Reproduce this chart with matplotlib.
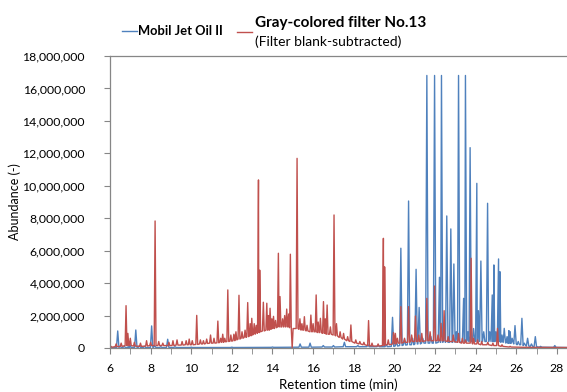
import numpy as np
import matplotlib
matplotlib.use('Agg')
import matplotlib.pyplot as plt
from matplotlib.ticker import MultipleLocator, FuncFormatter

plt.rcParams['font.family'] = ['Lato', 'DejaVu Sans']

# peaks: retention time (min), apex and foot abundance (millions)
jet_t = [6.00, 6.38, 6.50, 6.70, 6.90, 6.98, 7.27, 7.45, 7.70, 8.05, 8.20, 8.50, 8.84, 9.20,
         10.0, 12.0, 14.0, 15.36, 15.85, 16.50, 17.00, 17.54, 18.20, 18.70, 19.20, 19.60,
         19.91, 20.10, 20.32, 20.50, 20.70, 20.90, 21.07, 21.22, 21.40, 21.60, 21.80, 21.98,
         22.22, 22.32, 22.45, 22.58, 22.78, 22.93, 23.05, 23.16, 23.41, 23.50, 23.62, 23.73,
         23.90, 24.06, 24.14, 24.26, 24.40, 24.59, 24.70, 24.82, 24.90, 25.00, 25.13, 25.20,
         25.30, 25.41, 25.55, 25.64, 25.70, 25.80, 25.94, 26.10, 26.28, 26.40, 26.56, 26.75,
         26.94, 27.20, 27.90, 28.45]
jet_h = [0.02, 1.05, 0.10, 0.10, 0.08, 0.20, 1.11, 0.15, 0.10, 1.36, 0.15, 0.08, 0.54, 0.08,
         0.05, 0.05, 0.06, 0.25, 0.30, 0.15, 0.15, 0.35, 0.15, 0.20, 0.15, 0.20,
         1.89, 0.40, 6.15, 0.50, 9.06, 0.60, 4.85, 2.50, 0.60, 16.8, 0.70, 16.8,
         4.36, 16.8, 1.00, 8.14, 7.34, 5.18, 1.00, 16.8, 3.06, 16.8, 1.00, 12.35,
         1.20, 10.15, 2.30, 5.36, 1.00, 8.92, 1.00, 3.27, 5.12, 1.00, 5.49, 4.70,
         0.80, 1.21, 0.70, 1.07, 1.00, 0.60, 1.38, 0.40, 1.83, 0.30, 0.60, 0.25,
         0.70, 0.10, 0.15, 0.03]
jet_foot = [0.02, 0.03, 0.03, 0.03, 0.03, 0.03, 0.03, 0.03, 0.03, 0.03, 0.03, 0.03, 0.03, 0.03,
            0.03, 0.03, 0.04, 0.05, 0.05, 0.06, 0.06, 0.08, 0.08, 0.08, 0.08, 0.08,
            0.10, 0.12, 0.15, 0.18, 0.20, 0.20, 0.25, 0.25, 0.30, 0.30, 0.30, 0.30,
            0.35, 0.35, 0.35, 0.35, 0.35, 0.35, 0.35, 0.35, 0.40, 0.40, 0.40, 0.40,
            0.40, 0.40, 0.40, 0.40, 0.40, 0.40, 0.40, 0.40, 0.40, 0.40, 0.40, 0.40,
            0.35, 0.35, 0.30, 0.30, 0.30, 0.30, 0.25, 0.20, 0.20, 0.15, 0.12, 0.10,
            0.08, 0.05, 0.04, 0.03]

filt_t = [6.05, 6.30, 6.55, 6.79, 6.88, 7.00, 7.20, 7.50, 7.80, 8.00, 8.22, 8.40, 8.60, 8.90,
          9.10, 9.30, 9.55, 9.75, 9.90, 10.05, 10.27, 10.45, 10.60, 10.76, 10.95, 11.12,
          11.31, 11.45, 11.55, 11.65, 11.80, 11.95, 12.10, 12.20, 12.35, 12.50, 12.65, 12.78,
          12.90, 12.98, 13.10, 13.20, 13.31, 13.37, 13.55, 13.72, 13.80, 13.88, 13.97, 14.05,
          14.15, 14.29, 14.37, 14.50, 14.60, 14.70, 14.80, 14.88, 14.97, 15.21, 15.35, 15.45,
          15.57, 15.70, 15.89, 16.00, 16.15, 16.25, 16.36, 16.51, 16.60, 16.69, 16.85, 17.03,
          17.15, 17.33, 17.50, 17.70, 17.86, 18.10, 18.30, 18.50, 18.73, 18.90, 19.20, 19.46,
          19.52, 19.70, 19.96, 20.05, 20.15, 20.32, 20.50, 20.70, 20.85, 21.04, 21.20, 21.35,
          21.60, 21.76, 21.98, 22.15, 22.30, 22.45, 22.65, 22.90, 23.16, 23.35, 23.50, 23.78,
          23.90, 24.10, 24.30, 24.60, 24.85, 25.08, 25.30, 25.70, 26.50, 28.45]
filt_h = [0.10, 0.25, 0.30, 2.61, 0.90, 0.60, 0.35, 0.30, 0.45, 0.35, 7.83, 0.40, 0.30, 0.35,
          0.45, 0.50, 0.40, 0.45, 0.55, 0.45, 2.01, 0.50, 0.45, 0.55, 0.80, 0.60,
          1.66, 0.60, 0.85, 0.60, 3.58, 0.80, 0.85, 1.00, 3.25, 1.00, 1.10, 2.80,
          1.50, 1.83, 1.50, 1.40, 10.36, 4.80, 2.82, 2.76, 2.00, 2.45, 1.80, 1.95,
          1.70, 5.84, 3.17, 1.80, 2.00, 2.40, 2.10, 5.78, 0.00, 11.69, 1.80, 1.50,
          1.93, 1.40, 2.03, 1.50, 3.27, 1.60, 1.83, 2.86, 1.80, 2.65, 1.30, 8.20,
          1.50, 1.00, 0.90, 0.70, 1.42, 0.50, 0.40, 0.35, 1.69, 0.30, 0.25, 6.76,
          5.00, 0.50, 0.95, 0.90, 0.60, 2.55, 0.60, 2.55, 0.80, 1.97, 0.80, 0.90,
          3.06, 1.00, 3.82, 0.80, 1.52, 2.30, 0.70, 0.80, 0.90, 0.60, 0.50, 5.53,
          0.60, 0.50, 0.40, 0.35, 0.30, 1.21, 0.20, 0.10, 0.05, 0.03]
filt_foot = [0.05, 0.08, 0.10, 0.15, 0.15, 0.15, 0.12, 0.10, 0.12, 0.15, 0.15, 0.15, 0.15, 0.15,
             0.15, 0.18, 0.18, 0.20, 0.20, 0.20, 0.22, 0.25, 0.25, 0.28, 0.30, 0.30,
             0.32, 0.35, 0.35, 0.38, 0.40, 0.42, 0.45, 0.50, 0.55, 0.60, 0.65, 0.70,
             0.75, 0.80, 0.85, 0.90, 0.95, 1.00, 1.05, 1.10, 1.10, 1.15, 1.20, 1.20,
             1.25, 1.30, 1.30, 1.30, 1.30, 1.30, 1.30, 1.25, 1.20, 1.20, 1.15, 1.10,
             1.10, 1.05, 1.00, 1.00, 1.00, 0.95, 0.95, 0.90, 0.90, 0.85, 0.85, 0.80,
             0.75, 0.65, 0.55, 0.45, 0.40, 0.30, 0.25, 0.20, 0.15, 0.12, 0.12, 0.15,
             0.20, 0.20, 0.25, 0.25, 0.30, 0.30, 0.35, 0.35, 0.40, 0.40, 0.40, 0.40,
             0.45, 0.45, 0.45, 0.45, 0.45, 0.45, 0.40, 0.40, 0.35, 0.30, 0.30, 0.30,
             0.25, 0.25, 0.20, 0.20, 0.15, 0.15, 0.10, 0.06, 0.04, 0.03]

blue = '#4f81bd'
red = '#c0504d'
grey = '#868686'


def trace(t, h, foot, w):
    xs, ys = [], []
    for ti, hi, fi in zip(t, h, foot):
        xs += [ti - w, ti, ti + w]
        ys += [fi, hi, fi]
    order = np.argsort(xs, kind='stable')
    return np.array(xs)[order], np.array(ys)[order] * 1e6


fig = plt.figure(figsize=(5.67, 3.92), dpi=100)
ax = fig.add_axes([110 / 567, 44 / 392, 457 / 567, 292 / 392])

x, y = trace(jet_t, jet_h, jet_foot, 0.06)
ax.plot(x, y, color=blue, lw=1.0)
x, y = trace(filt_t, filt_h, filt_foot, 0.045)
ax.plot(x, y, color=red, lw=1.0)

ax.set_xlim(6, 28.5)
ax.set_ylim(0, 18e6)
ax.xaxis.set_major_locator(MultipleLocator(2))
ax.xaxis.set_minor_locator(MultipleLocator(1))
ax.yaxis.set_major_locator(MultipleLocator(2e6))
ax.yaxis.set_major_formatter(FuncFormatter(lambda v, p: f'{int(v):,}'))
ax.tick_params(which='both', direction='out', length=4, color=grey, labelsize=8.8)
ax.tick_params(axis='x', pad=7)
ax.tick_params(axis='y', pad=14)

ax.spines['right'].set_visible(False)
for s in ['left', 'bottom', 'top']:
    ax.spines[s].set_color(grey)
    ax.spines[s].set_linewidth(0.9)

ax.set_xlabel('Retention time (min)', fontsize=9.5, labelpad=3)
ax.set_ylabel('Abundance (-)', fontsize=9, labelpad=1)

# legend above the plot
fig.add_artist(plt.Line2D([122 / 567, 137 / 567], [1 - 31 / 392] * 2, color=blue, lw=1.0))
fig.text(138 / 567, 1 - 31 / 392, 'Mobil Jet Oil II', fontsize=9.3, fontweight='bold', va='center')
fig.add_artist(plt.Line2D([237 / 567, 252 / 567], [1 - 32 / 392] * 2, color=red, lw=1.0))
fig.text(255 / 567, 1 - 23 / 392, 'Gray-colored filter No.13', fontsize=11, fontweight='bold', va='center')
fig.text(255 / 567, 1 - 42 / 392, '(Filter blank-subtracted)', fontsize=10, va='center')

fig.savefig('out.png', dpi=100)
